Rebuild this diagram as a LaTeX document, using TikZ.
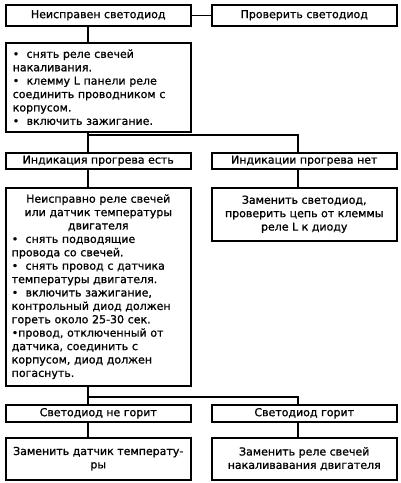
\documentclass[tikz,border=0pt]{standalone}
\usepackage{fontspec}
\setmainfont{DejaVu Sans}[FakeBold=1]
\begin{document}
\begin{tikzpicture}[x=1pt,y=-1pt,
  box/.style={draw, line width=1.5pt, inner sep=0pt, anchor=north west, minimum width=185pt, font=\fontsize{11}{13.4}\selectfont},
  conn/.style={line width=1.5pt}]
\useasboundingbox (0,0) rectangle (400,483);
\node[box, minimum height=21pt] (b1) at (5,4) {Неисправен светодиод};
\node[box, minimum height=21pt] (b2) at (211,4) {Проверить светодиод};
\node[box, minimum height=89pt, text width=171pt, inner xsep=7pt, align=left] (b3) at (5,42)
 {•\ \ снять реле свечей\\ накаливания.\\ •\ \ клемму L панели реле\\ соединить проводником с\\ корпусом.\\ •\ \ включить зажигание.};
\node[box, minimum height=16pt] (b4) at (5,152) {Индикация прогрева есть};
\node[box, minimum height=16pt] (b5) at (211,152) {Индикации прогрева нет};
\node[box, minimum height=198pt, text width=173pt, inner xsep=6pt] (b6) at (5,187)
 {{\centering Неисправно реле свечей\\ или датчик температуры\\ двигателя\par}%
  {\raggedright •\ \ снять подводящие\\ провода со свечей.\\ •\ \ снять провод с датчика\\ температуры двигателя.\\ •\ \ включить зажигание,\\ контрольный диод должен\\ гореть около 25-30 сек.\\ •провод, отключенный от\\ датчика, соединить с\\ корпусом, диод должен\\ погаснуть.\par}};
\node[box, minimum height=53pt, align=center] (b7) at (211,187)
 {Заменить светодиод,\\ проверить цепь от клеммы\\ реле L к диоду};
\node[box, minimum height=17pt] (b8) at (5,404) {Светодиод не горит};
\node[box, minimum height=17pt] (b9) at (211,404) {Светодиод горит};
\node[box, minimum height=42pt, align=center] (b10) at (5,437) {Заменить датчик температу-\\ры};
\node[box, minimum height=42pt, align=center] (b11) at (211,437) {Заменить реле свечей\\ накаливавания двигателя};
\coordinate (j1) at (88,135);
\coordinate (r1) at (298,135);
\coordinate (j2) at (88,397);
\coordinate (r2) at (298,397);
\draw[conn] (b1.east) -- (b2.west);
\draw[conn] (b1.south -| j1) -- (b3.north -| j1);
\draw[conn] (b3.south -| j1) -- (j1) -- (r1) -- (b5.north -| r1);
\draw[conn] (j1) -- (b4.north -| j1);
\draw[conn] (b4.south -| j1) -- (b6.north -| j1);
\draw[conn] (b5.south -| r1) -- (b7.north -| r1);
\draw[conn] (b6.south -| j2) -- (j2) -- (r2) -- (b9.north -| r2);
\draw[conn] (j2) -- (b8.north -| j2);
\draw[conn] (b8.south -| j2) -- (b10.north -| j2);
\draw[conn] (b9.south -| r2) -- (b11.north -| r2);
\end{tikzpicture}
\end{document}
